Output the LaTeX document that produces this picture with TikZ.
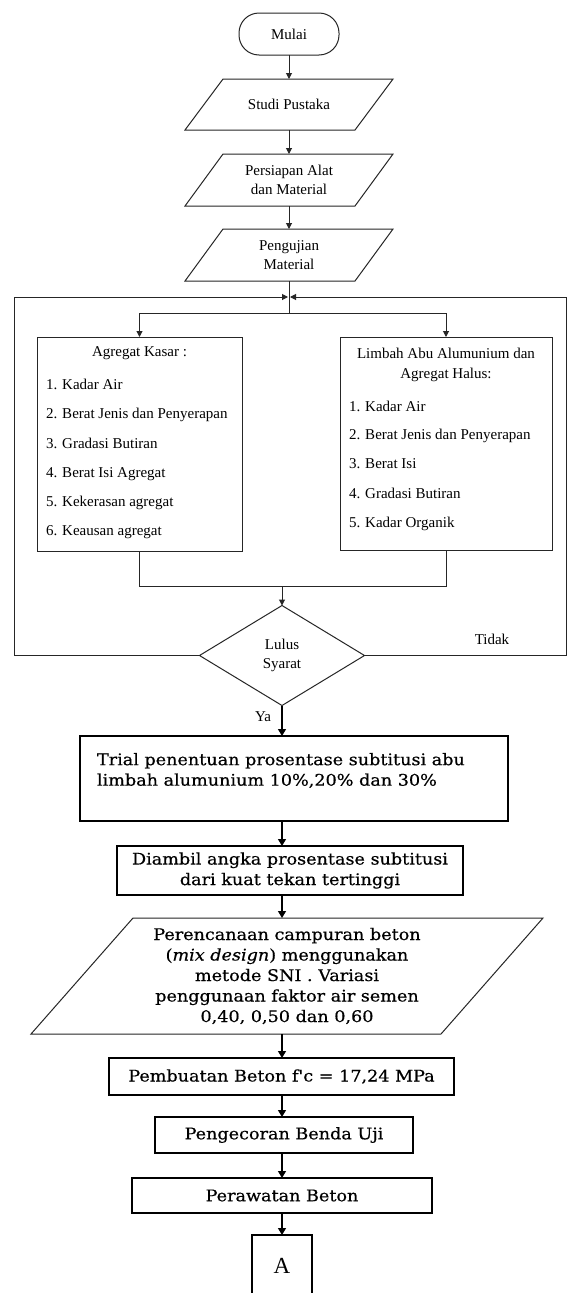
\documentclass[tikz,border=0pt]{standalone}
\usepackage{fontspec}
\setmainfont{Liberation Serif}
\newfontfamily\lowfont[FakeStretch=1.1,FakeBold=0.5]{DejaVu Serif}
\usetikzlibrary{arrows.meta,shapes.geometric}
\newcommand\drawpara[2]{\draw[ln] ([xshift=#2]#1.north west) -- ([xshift=#2]#1.north east) -- ([xshift=-#2]#1.south east) -- ([xshift=-#2]#1.south west) -- cycle;}
\begin{document}
\begin{tikzpicture}[x=1pt,y=-1pt,
  every node/.style={inner sep=0pt, outer sep=0pt},
  ln/.style={line width=1pt, draw=black!85},
  arr/.style={ln, -{Triangle[length=6pt,width=6pt]}},
  arrb/.style={line width=1.2pt, draw=black, -{Triangle[length=7pt,width=8pt]}},
  box/.style={draw=black!85, line width=1pt, rectangle},
  boxb/.style={draw=black, line width=1.1pt, rectangle},
  up/.style={font=\fontsize{15}{19.5}\selectfont, align=center},
  lst/.style={font=\fontsize{15}{18}\selectfont, anchor=base west},
  low/.style={font=\lowfont\fontsize{16}{20.5}\selectfont, align=center}]
\path[use as bounding box, fill=white] (0,0) rectangle (568,1293);

% top column
\node[box, rounded corners=20pt, minimum width=100, minimum height=42, up] (mulai) at (289,34) {Mulai};
\node[minimum width=170, minimum height=51, up] (studi) at (289,104.5) {Studi Pustaka};
\node[minimum width=170, minimum height=52, up] (persiapan) at (289,180) {Persiapan Alat\\dan Material};
\node[minimum width=170, minimum height=52, up] (pengujian) at (289,255) {Pengujian\\Material};
\drawpara{studi}{19}
\drawpara{persiapan}{19}
\drawpara{pengujian}{19}
\draw[arr] (mulai) -- (studi);
\draw[arr] (studi) -- (persiapan);
\draw[arr] (persiapan) -- (pengujian);

\coordinate (j1) at (289,297);
\coordinate (j2) at (289,313);
\draw[ln] (pengujian.south) -- (j2);

% two test boxes
\node[box, minimum width=205, minimum height=214] (kasar) at (139.5,444) {};
\node[box, minimum width=212, minimum height=213] (limbah) at (446,443.5) {};
\draw[arr] (j2) -| (kasar.north);
\draw[arr] (j2) -| (limbah.north);

\node[up] (kt) at (139.5,353) {Agregat Kasar :};
\node[lst] (k1) at (46,389) {1. Kadar Air};
\node[lst] (k2) at (46,418) {2. Berat Jenis dan Penyerapan};
\node[lst] (k3) at (46,448) {3. Gradasi Butiran};
\node[lst] (k4) at (46,477) {4. Berat Isi Agregat};
\node[lst] (k5) at (46,506) {5. Kekerasan agregat};
\node[lst] (k6) at (46,535) {6. Keausan agregat};

\node[up] (lt1) at (446,353) {Limbah Abu Alumunium dan};
\node[up] (lt2) at (446,375) {Agregat Halus:};
\node[lst] (l1) at (349,411) {1. Kadar Air};
\node[lst] (l2) at (349,439) {2. Berat Jenis dan Penyerapan};
\node[lst] (l3) at (349,468) {3. Berat Isi};
\node[lst] (l4) at (349,498) {4. Gradasi Butiran};
\node[lst] (l5) at (349,527) {5. Kadar Organik};

\coordinate (j3) at (282,586);
\draw[ln] (kasar.south) -- (kasar.south |- j3) -- (limbah.south |- j3) -- (limbah.south);

% decision
\node[draw=black!85, line width=1pt, diamond, minimum width=165, minimum height=100, up] (dia) at (282,655.5) {Lulus\\Syarat};
\draw[arr] (j3) -- (dia.north);
\coordinate (lc) at (14,297);
\coordinate (rc) at (566,297);
\draw[arr] (dia.west) -| (lc) -- ([xshift=-1pt]j1);
\draw[arr] (dia.east) -| (rc) -- ([xshift=1pt]j1);
\node[up] (tidak) at (492,639) {Tidak};
\node[up] (ya) at (263,717) {Ya};

% lower column
\node[boxb, minimum width=428, minimum height=85] (trial) at (294,778.5) {};
\node[low, align=left, anchor=north west] (trialt) at (97,753) {Trial penentuan prosentase subtitusi abu\\limbah alumunium 10\%,20\% dan 30\%};
\draw[arrb] (dia.south) -- (dia.south |- trial.north);

\node[boxb, minimum width=346, minimum height=49, low] (diambil) at (290,870.5) {Diambil angka prosentase subtitusi\\dari kuat tekan tertinggi};
\draw[arrb] (dia.south |- trial.south) -- (dia.south |- diambil.north);

\node[minimum width=410, minimum height=116, low] (renc) at (287,976) {Perencanaan campuran beton\\({\itshape mix design}) menggunakan\\metode SNI . Variasi\\penggunaan faktor air semen\\0,40, 0,50 dan 0,60};
\drawpara{renc}{51}
\draw[arrb] (dia.south |- diambil.south) -- (dia.south |- renc.north);

\node[boxb, minimum width=345, minimum height=37, low] (buat) at (281.5,1076.5) {Pembuatan Beton f'c = 17,24 MPa};
\draw[arrb] (dia.south |- renc.south) -- (dia.south |- buat.north);

\node[boxb, minimum width=258, minimum height=36, low] (cor) at (284,1135) {Pengecoran Benda Uji};
\draw[arrb] (dia.south |- buat.south) -- (dia.south |- cor.north);

\node[boxb, minimum width=300, minimum height=35, low] (rawat) at (282,1195.5) {Perawatan Beton};
\draw[arrb] (dia.south |- cor.south) -- (dia.south |- rawat.north);

\node[boxb, minimum width=60, minimum height=62, font=\fontsize{23}{26}\selectfont] (A) at (282,1266) {A};
\draw[arrb] (dia.south |- rawat.south) -- (dia.south |- A.north);
\end{tikzpicture}
\end{document}
